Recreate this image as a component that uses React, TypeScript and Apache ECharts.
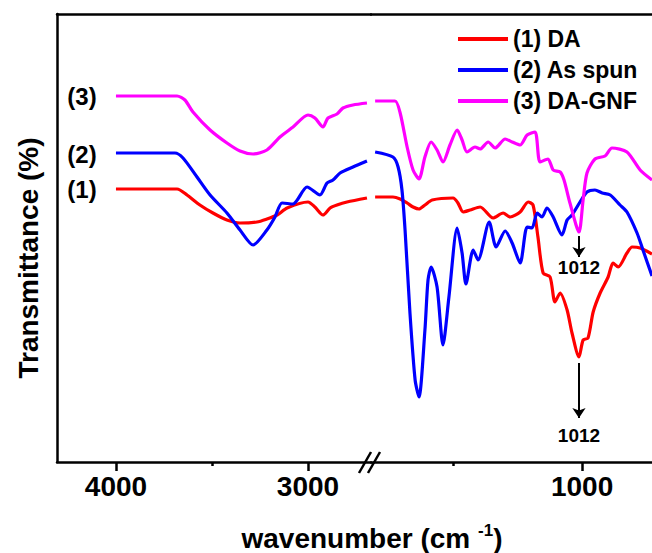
import React, { useEffect, useRef } from "react";
import * as echarts from "echarts";

// wavenumber (cm^-1), transmittance (offset, arbitrary units)
const daLeft: [number, number][] = [
  [4000, 273], [3682, 273], [3630, 267], [3563, 257], [3495, 249], [3422, 242], [3354, 239],
  [3266, 240], [3214, 243], [3161, 247], [3109, 254], [3000, 260], [2964, 255], [2922, 247],
  [2885, 254], [2849, 257], [2797, 260], [2693, 264],
];
const daRight: [number, number][] = [
  [1802, 265], [1733, 265], [1705, 263], [1678, 259], [1655, 255], [1632, 253], [1609, 257],
  [1581, 262], [1500, 264], [1481, 259], [1461, 250], [1434, 252], [1395, 255], [1345, 244],
  [1306, 249], [1279, 245], [1240, 250], [1209, 260], [1190, 257], [1171, 225], [1151, 189],
  [1124, 185], [1105, 160], [1085, 169], [1058, 152], [1039, 129], [1012, 105], [996, 122],
  [977, 124], [957, 150], [930, 169], [899, 185], [880, 199], [860, 195], [826, 209],
  [806, 215], [775, 214], [729, 208],
];
const spunLeft: [number, number][] = [
  [4000, 309], [3693, 309], [3651, 304], [3578, 285], [3510, 267], [3422, 249], [3354, 232],
  [3286, 217], [3214, 232], [3172, 245], [3135, 259], [3078, 258], [3005, 275], [2938, 267],
  [2901, 279], [2870, 282], [2833, 289], [2766, 295], [2693, 301],
];
const spunRight: [number, number][] = [
  [1802, 310], [1733, 305], [1713, 295], [1698, 272], [1686, 232], [1667, 149], [1647, 82],
  [1632, 65], [1609, 132], [1597, 182], [1585, 195], [1562, 175], [1539, 117], [1516, 165],
  [1484, 234], [1465, 209], [1450, 178], [1422, 212], [1403, 202], [1360, 240], [1333, 215],
  [1298, 231], [1271, 219], [1240, 199], [1213, 235], [1194, 234], [1174, 249], [1155, 245],
  [1136, 254], [1112, 245], [1078, 227], [1058, 242], [1039, 247], [1008, 260], [981, 270],
  [950, 272], [922, 269], [891, 267], [853, 257], [826, 250], [787, 229], [764, 212], [729, 186],
];
const gnfLeft: [number, number][] = [
  [4000, 366], [3682, 366], [3641, 362], [3599, 350], [3510, 332], [3422, 319], [3354, 311],
  [3286, 308], [3214, 312], [3146, 325], [3078, 335], [3000, 347], [2964, 344], [2922, 335],
  [2896, 344], [2849, 348], [2818, 354], [2766, 357], [2693, 359],
];
const gnfRight: [number, number][] = [
  [1802, 361], [1725, 361], [1705, 349], [1678, 315], [1655, 292], [1632, 283], [1609, 305],
  [1585, 320], [1562, 312], [1539, 300], [1512, 317], [1484, 332], [1465, 322], [1446, 310],
  [1415, 315], [1395, 313], [1364, 320], [1337, 314], [1298, 323], [1271, 320], [1240, 317],
  [1213, 327], [1182, 330], [1163, 300], [1132, 303], [1112, 292], [1085, 290], [1070, 282],
  [1047, 259], [1012, 230], [996, 262], [981, 289], [950, 303], [911, 306], [884, 314],
  [826, 310], [775, 292], [729, 282],
];

const seriesNames = ["(1) DA", "(2) As spun", "(3) DA-GNF"];
const seriesColors = ["#ff0000", "#0000ff", "#ff00ff"];
const leftMajorTicks = [4000, 3000];
const leftMinorTicks = [3500];
const rightMajorTicks = [1000];
const rightMinorTicks = [1500];
const peakLabel = "1012";
const peakWn = 1012;

const FONT = "'Liberation Sans', Arial, sans-serif";

export default function App() {
  const ref = useRef<HTMLDivElement>(null);
  useEffect(() => {
    document.body.style.margin = "0";
    if (!ref.current) return;
    const chart = echarts.init(ref.current, undefined, { renderer: "svg" });
    const axisLineStyle = { color: "#000", width: 2.5 };
    const mkBottom = (grid: number, min: number, max: number, ticks: number[]) => ({
      gridIndex: grid, type: "value", min, max, inverse: true, position: "bottom",
      axisLine: { show: true, onZero: false, lineStyle: axisLineStyle },
      axisTick: { show: true, customValues: ticks, length: 9, lineStyle: { color: "#000", width: 2.5 } },
      axisLabel: {
        show: true, customValues: ticks, fontSize: 28, fontWeight: "bold", color: "#000",
        fontFamily: FONT, margin: 10, formatter: (v: number) => String(v),
      },
      splitLine: { show: false },
    });
    const mkMinor = (grid: number, min: number, max: number, ticks: number[]) => ({
      gridIndex: grid, type: "value", min, max, inverse: true, position: "bottom",
      axisLine: { show: false, onZero: false },
      axisTick: { show: true, customValues: ticks, length: 4, lineStyle: { color: "#000", width: 2.5 } },
      axisLabel: { show: false },
      splitLine: { show: false },
    });
    const mkTop = (grid: number, min: number, max: number) => ({
      gridIndex: grid, type: "value", min, max, inverse: true, position: "top",
      axisLine: { show: true, onZero: false, lineStyle: axisLineStyle },
      axisTick: { show: false }, axisLabel: { show: false }, splitLine: { show: false },
    });
    const L = [2672, 4307];
    const R = [729, 1818];
    const lineSeries = (name: string, color: string, data: [number, number][], xi: number, yi: number, extra: any = {}) => ({
      type: "line", name, xAxisIndex: xi, yAxisIndex: yi, data, symbol: "none", showSymbol: false,
      smooth: 0.25, lineStyle: { color, width: 3.2 }, itemStyle: { color }, silent: true, ...extra,
    });
    const arrow = (from: number, to: number, dist: number) => ({
      silent: true, symbol: ["none", "arrow"], symbolSize: 10,
      lineStyle: { color: "#000", width: 2, type: "solid" },
      label: {
        show: true, position: "end", distance: dist, formatter: "{p|" + peakLabel + "}",
        rich: { p: { color: "#000", fontSize: 19, fontWeight: "bold", fontFamily: FONT } },
      },
      data: [[{ coord: [peakWn, from] }, { coord: [peakWn, to] }]],
    });
    const option: any = {
      animation: false,
      grid: [
        { left: 57, top: 14, width: 314, height: 448 },
        { left: 371, top: 14, right: 0, height: 448 },
      ],
      xAxis: [
        mkBottom(0, L[0], L[1], leftMajorTicks),
        mkMinor(0, L[0], L[1], leftMinorTicks),
        mkTop(0, L[0], L[1]),
        mkBottom(1, R[0], R[1], rightMajorTicks),
        mkMinor(1, R[0], R[1], rightMinorTicks),
        mkTop(1, R[0], R[1]),
      ],
      yAxis: [
        {
          gridIndex: 0, type: "value", min: 0, max: 448,
          axisLine: { show: true, onZero: false, lineStyle: axisLineStyle },
          axisTick: { show: false }, axisLabel: { show: false }, splitLine: { show: false },
        },
        { gridIndex: 1, type: "value", min: 0, max: 448, show: false },
      ],
      legend: {
        orient: "vertical", left: 453, top: 22, icon: "rect", itemWidth: 50, itemHeight: 4,
        itemGap: 7, data: seriesNames,
        textStyle: { fontSize: 23, fontWeight: "bold", color: "#000", fontFamily: FONT, lineHeight: 24 },
      },
      series: [
        lineSeries(seriesNames[0], seriesColors[0], daLeft, 0, 0),
        lineSeries(seriesNames[0], seriesColors[0], daRight, 3, 1, { markLine: arrow(99, 44, 8) }),
        lineSeries(seriesNames[1], seriesColors[1], spunLeft, 0, 0),
        lineSeries(seriesNames[1], seriesColors[1], spunRight, 3, 1),
        lineSeries(seriesNames[2], seriesColors[2], gnfLeft, 0, 0),
        lineSeries(seriesNames[2], seriesColors[2], gnfRight, 3, 1, { markLine: arrow(226, 205, 1) }),
      ],
      graphic: [
        {
          type: "text", x: 28, y: 258, rotation: Math.PI / 2,
          style: {
            text: "Transmittance (%)", fontSize: 28, fontWeight: "bold", fontFamily: FONT,
            fill: "#000", align: "center", verticalAlign: "middle",
          },
        },
        {
          type: "text", x: 372, y: 538,
          style: {
            text: "{a|wavenumber (cm }{b|-1}{a|)}",
            rich: {
              a: { fontSize: 28, fontWeight: "bold", fontFamily: FONT, fill: "#000" },
              b: { fontSize: 17, fontWeight: "bold", fontFamily: FONT, fill: "#000", padding: [0, 0, 16, 0] },
            },
            align: "center", verticalAlign: "middle",
          },
        },
        ...[["(3)", 96], ["(2)", 154], ["(1)", 189]].map(([t, y]) => ({
          type: "text", x: 82, y: y as number,
          style: {
            text: t as string, fontSize: 24, fontWeight: "bold", fontFamily: FONT, fill: "#000",
            align: "center", verticalAlign: "middle",
          },
        })),
        { type: "line", shape: { x1: 359, y1: 473, x2: 371, y2: 452 }, style: { stroke: "#000", lineWidth: 2.5 }, z: 101 },
        { type: "line", shape: { x1: 368, y1: 473, x2: 380, y2: 452 }, style: { stroke: "#000", lineWidth: 2.5 }, z: 101 },
      ],
    };
    chart.setOption(option);
    return () => chart.dispose();
  }, []);
  return <div ref={ref} style={{ width: 652, height: 553 }} />;
}
